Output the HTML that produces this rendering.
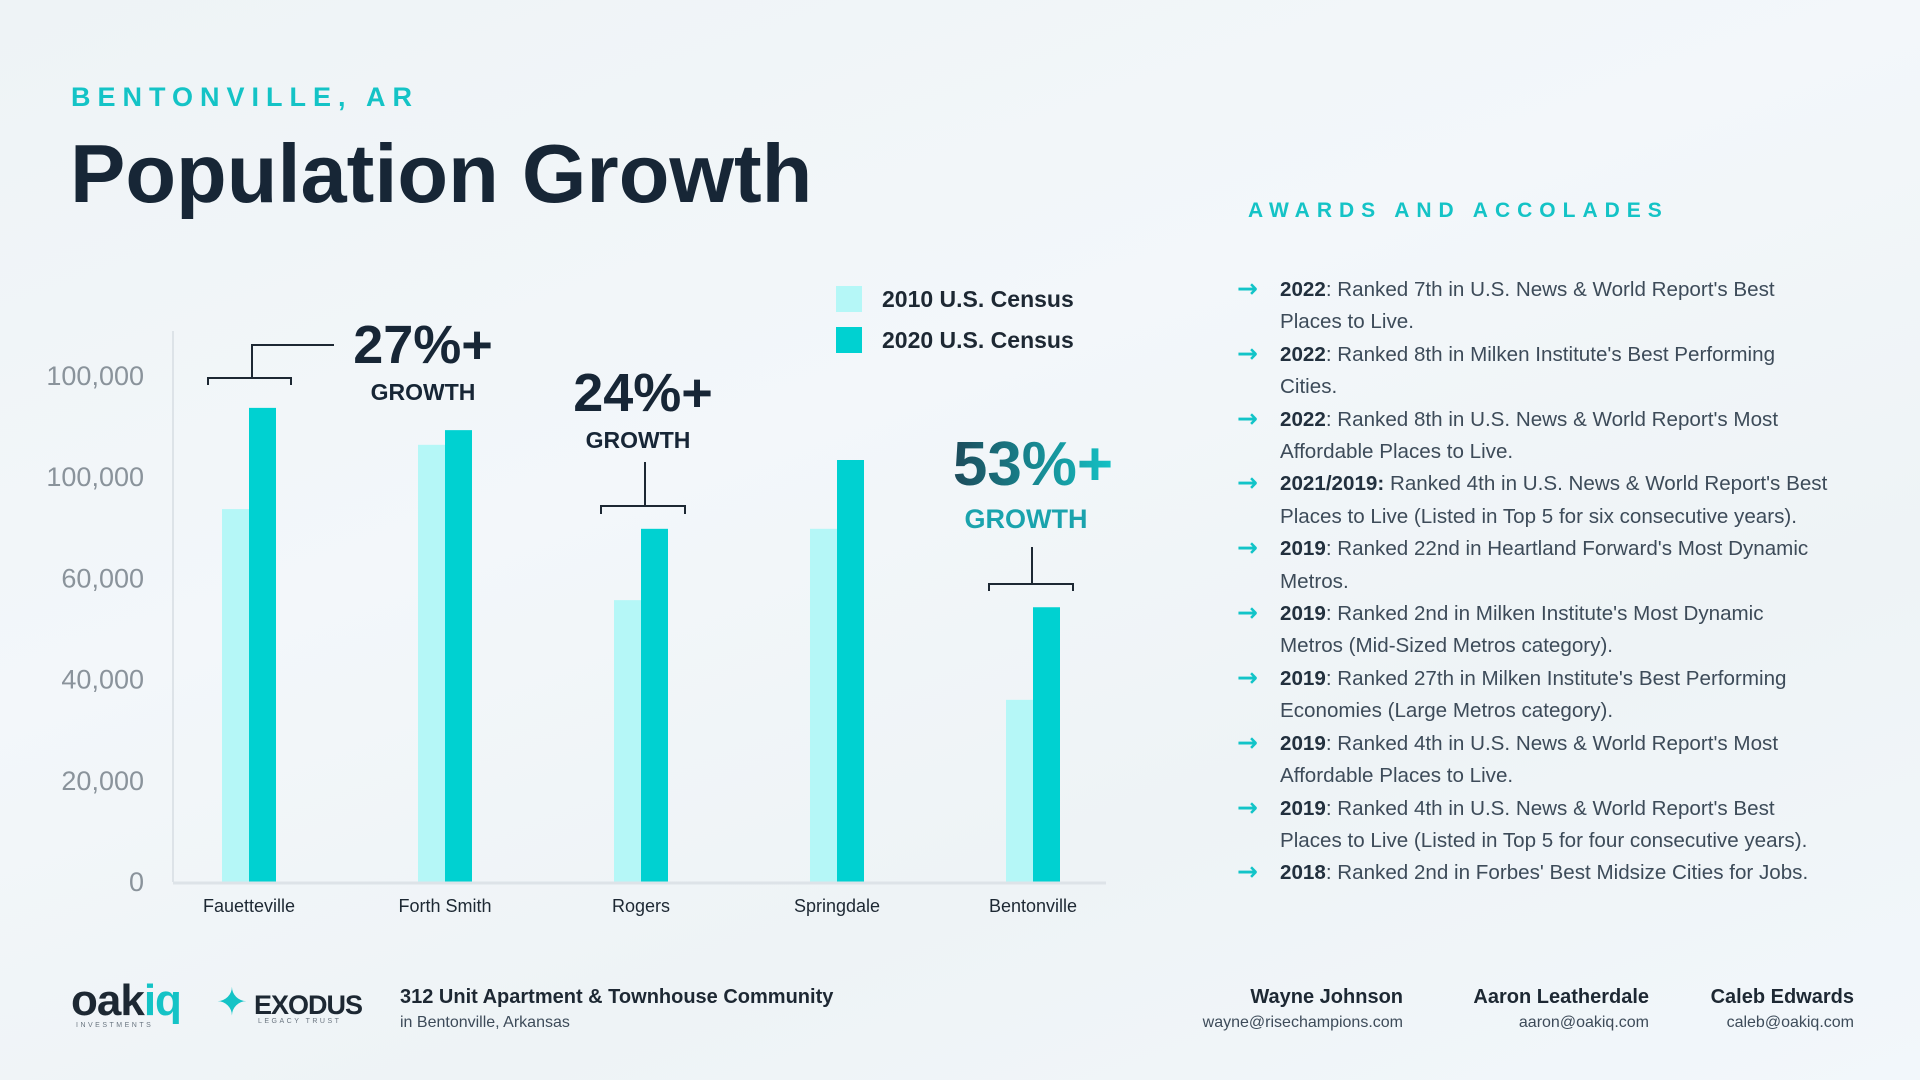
<!DOCTYPE html>
<html><head><meta charset="utf-8">
<style>
html,body{margin:0;padding:0}
body{width:1920px;height:1080px;position:relative;overflow:hidden;font-family:"Liberation Sans",sans-serif;
background:linear-gradient(160deg,#eef3f6 0%,#f3f7fa 40%,#eef3f6 70%,#f2f7fb 100%);}
.abs{position:absolute;white-space:nowrap}
.list{position:absolute;left:1237px;top:274px;font-size:20.6px;line-height:32.4px;color:#3d4b59}
.item{position:relative;padding-left:43px}
.item .arr{position:absolute;left:0;top:-1px;color:#12c4c8;font-weight:bold;font-size:25px;font-family:"DejaVu Sans",sans-serif}
.item b{color:#22303e}
</style></head><body>
<div class="abs" style="left:71px;top:82px;font-size:27px;font-weight:bold;letter-spacing:7px;color:#14c3c6">BENTONVILLE, AR</div>
<div class="abs" style="left:70px;top:126px;font-size:83px;font-weight:bold;color:#172636">Population Growth</div>
<div class="abs" style="left:1248px;top:199px;font-size:21px;font-weight:bold;letter-spacing:7px;color:#14c3c6">AWARDS AND ACCOLADES</div>

<div class="list">
<div class="item"><span class="arr">→</span><b>2022</b>: Ranked 7th in U.S. News &amp; World Report's Best<br>Places to Live.</div>
<div class="item"><span class="arr">→</span><b>2022</b>: Ranked 8th in Milken Institute's Best Performing<br>Cities.</div>
<div class="item"><span class="arr">→</span><b>2022</b>: Ranked 8th in U.S. News &amp; World Report's Most<br>Affordable Places to Live.</div>
<div class="item"><span class="arr">→</span><b>2021/2019:</b> Ranked 4th in U.S. News &amp; World Report's Best<br>Places to Live (Listed in Top 5 for six consecutive years).</div>
<div class="item"><span class="arr">→</span><b>2019</b>: Ranked 22nd in Heartland Forward's Most Dynamic<br>Metros.</div>
<div class="item"><span class="arr">→</span><b>2019</b>: Ranked 2nd in Milken Institute's Most Dynamic<br>Metros (Mid-Sized Metros category).</div>
<div class="item"><span class="arr">→</span><b>2019</b>: Ranked 27th in Milken Institute's Best Performing<br>Economies (Large Metros category).</div>
<div class="item"><span class="arr">→</span><b>2019</b>: Ranked 4th in U.S. News &amp; World Report's Most<br>Affordable Places to Live.</div>
<div class="item"><span class="arr">→</span><b>2019</b>: Ranked 4th in U.S. News &amp; World Report's Best<br>Places to Live (Listed in Top 5 for four consecutive years).</div>
<div class="item"><span class="arr">→</span><b>2018</b>: Ranked 2nd in Forbes' Best Midsize Cities for Jobs.</div>
</div>

<svg id="chart" width="1920" height="1080" style="position:absolute;left:0;top:0" font-family="Liberation Sans, sans-serif">
<defs><linearGradient id="g53" x1="0" x2="1"><stop offset="0" stop-color="#1c4a5a"/><stop offset="1" stop-color="#14c3c6"/></linearGradient></defs>
<g id="plot"></g>
<g fill="none" stroke="#1d2833" stroke-width="2">
<path d="M208 385 V378 H291 V385 M252 378 V345 H334"/>
<path d="M601 514 V506 H685 V514 M645 506 V462"/>
<path d="M989 591 V584 H1073 V591 M1032 584 V547"/>
</g>
<text x="423" y="363" text-anchor="middle" font-size="54" font-weight="bold" fill="#172636">27%+</text>
<text x="423" y="400" text-anchor="middle" font-size="23" font-weight="bold" fill="#172636">GROWTH</text>
<text x="643" y="411" text-anchor="middle" font-size="54" font-weight="bold" fill="#172636">24%+</text>
<text x="638" y="448" text-anchor="middle" font-size="23" font-weight="bold" fill="#172636">GROWTH</text>
<text x="1033" y="485" text-anchor="middle" font-size="62" font-weight="bold" fill="url(#g53)">53%+</text>
<text x="1026" y="528" text-anchor="middle" font-size="27" font-weight="bold" fill="#1aa3ad">GROWTH</text>
<rect x="836" y="286" width="26" height="26" fill="#b5f7f7"/>
<text x="882" y="307" font-size="23" font-weight="bold" fill="#1d2833">2010 U.S. Census</text>
<rect x="836" y="327" width="26" height="26" fill="#00d1d1"/>
<text x="882" y="348" font-size="23" font-weight="bold" fill="#1d2833">2020 U.S. Census</text>
</svg>

<!-- footer -->
<div class="abs" style="left:71px;top:976px;font-size:44px;font-weight:bold;color:#1d2833;letter-spacing:-1px">oak<span style="color:#14c3c6">iq</span></div>
<div class="abs" style="left:76px;top:1022px;font-size:7px;letter-spacing:2.5px;color:#6a7580">INVESTMENTS</div>
<div class="abs" style="left:216px;top:980px;font-size:38px;color:#14c3c6">✦</div>
<div class="abs" style="left:254px;top:990px;font-size:27px;font-weight:bold;color:#1d2833;letter-spacing:-1px">EXODUS</div>
<div class="abs" style="left:258px;top:1018px;font-size:7px;letter-spacing:2.5px;color:#6a7580">LEGACY TRUST</div>
<div class="abs" style="left:400px;top:986px;font-size:20px;font-weight:bold;color:#1d2833">312 Unit Apartment &amp; Townhouse Community</div>
<div class="abs" style="left:400px;top:1014px;font-size:16px;color:#3d4b59">in Bentonville, Arkansas</div>
<div class="abs" style="right:517px;top:986px;text-align:right"><div style="font-size:20px;font-weight:bold;color:#1d2833">Wayne Johnson</div><div style="font-size:16px;color:#3d4b59;margin-top:5px">wayne@risechampions.com</div></div>
<div class="abs" style="right:271px;top:986px;text-align:right"><div style="font-size:20px;font-weight:bold;color:#1d2833">Aaron Leatherdale</div><div style="font-size:16px;color:#3d4b59;margin-top:5px">aaron@oakiq.com</div></div>
<div class="abs" style="right:66px;top:986px;text-align:right"><div style="font-size:20px;font-weight:bold;color:#1d2833">Caleb Edwards</div><div style="font-size:16px;color:#3d4b59;margin-top:5px">caleb@oakiq.com</div></div>

<script>
const categories = ["Fauetteville","Forth Smith","Rogers","Springdale","Bentonville"];
const census2010 = [73700, 86400, 55700, 69800, 36000];
const census2020 = [93700, 89300, 69800, 83400, 54300];
const tickValues = [0, 20000, 40000, 60000, 80000, 100000];
const tickLabels = ["0","20,000","40,000","60,000","100,000","100,000"];

const NS = "http://www.w3.org/2000/svg";
const plot = document.getElementById('plot');
const x0 = 173, x1 = 1106, yBase = 882, yTop = 376, vMax = 100000;
function yScale(v){ return yBase - (v / vMax) * (yBase - yTop); }
function xCenter(i){ return 249 + i * ((1033 - 249) / (categories.length - 1)); }
const barW = 27;
function mk(tag, attrs){ const e = document.createElementNS(NS, tag); for (const k in attrs) e.setAttribute(k, attrs[k]); plot.appendChild(e); return e; }

const yAxis = mk('line', {x1:x0, x2:x0, y1:331, y2:yBase, stroke:'#dde3e8', 'stroke-width':2});



tickValues.forEach((v, i) => {
  const t = mk('text', {x:144, y:yScale(v) + 9, 'text-anchor':'end', 'font-size':27, fill:'#8a939b'});
  t.textContent = tickLabels[i];
  
  
});

categories.forEach((c, i) => {
  const cx = xCenter(i);
  const b1 = mk('rect', {x:cx - barW, y:yScale(census2010[i]), width:barW, height:yBase - yScale(census2010[i]), fill:'#b5f7f7'});
  
  
  const b2 = mk('rect', {x:cx, y:yScale(census2020[i]), width:barW, height:yBase - yScale(census2020[i]), fill:'#00d1d1'});
  
  
  const t = mk('text', {x:cx, y:912, 'text-anchor':'middle', 'font-size':18, fill:'#1d2833'});
  t.textContent = c;
  
  
});

const xAxis = mk('line', {x1:x0, x2:x1, y1:yBase + 1, y2:yBase + 1, stroke:'#dde3e8', 'stroke-width':3});


</script>
</body></html>
